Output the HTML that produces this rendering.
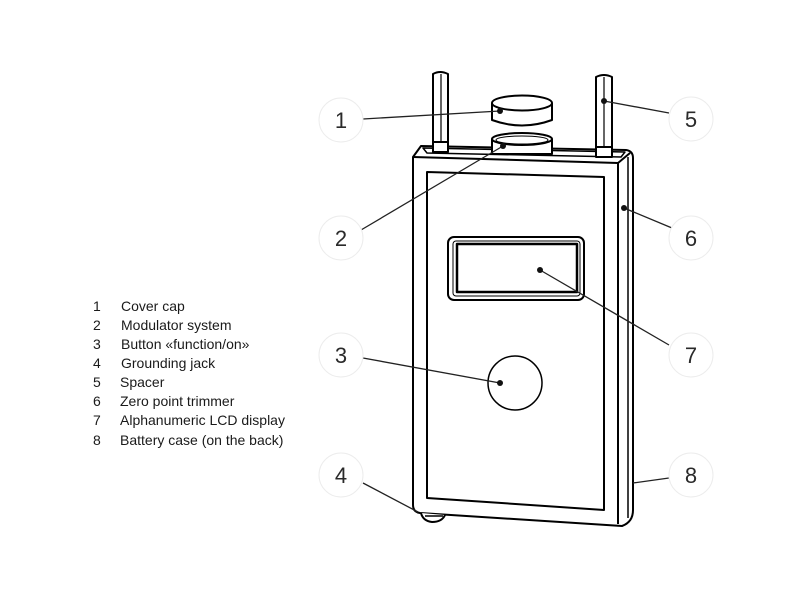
<!DOCTYPE html>
<html><head><meta charset="utf-8"><style>
html,body{margin:0;padding:0;background:#fff;}
svg{display:block;}
</style></head><body>
<svg width="800" height="600" viewBox="0 0 800 600" xmlns="http://www.w3.org/2000/svg">
<rect width="800" height="600" fill="#fff"/>
<!-- legend -->
<g font-family="Liberation Sans, Arial, sans-serif" font-size="14" fill="#1a1a1a">
<text x="93" y="311">1</text><text x="121" y="311">Cover cap</text>
<text x="93" y="330">2</text><text x="121" y="330">Modulator system</text>
<text x="93" y="349">3</text><text x="121" y="349">Button «function/on»</text>
<text x="93" y="368">4</text><text x="121" y="368">Grounding jack</text>
<text x="93" y="387">5</text><text x="120" y="387">Spacer</text>
<text x="93" y="406">6</text><text x="120" y="406">Zero point trimmer</text>
<text x="93" y="425">7</text><text x="120" y="425">Alphanumeric LCD display</text>
<text x="93" y="445">8</text><text x="120" y="445">Battery case (on the back)</text>
</g>
<!-- device -->
<g fill="none" stroke="#000" stroke-width="2" stroke-linejoin="round">
<!-- silhouette -->
<path d="M413,157 L421,146 L626,150 Q633,151 633,158 L633,510 Q633,522 622,526 L420,513 Q413,512 413,505 Z" fill="#fff"/>
<!-- front top edge and right front edge -->
<path d="M413,157 L618,163 L618,524"/>
<path d="M618,163 L630,153"/>
<path d="M628,157 L628,518" stroke-width="1.5"/>
<!-- top slot -->
<path d="M423,148 L625,152 L621,157 L427,153 Z" stroke-width="1.5"/>
<!-- inner front rect -->
<path d="M427,172 L604,177 L604,510 L427,498 Z"/>
<!-- display -->
<rect x="448" y="237" width="136" height="63" rx="6"/>
<rect x="453" y="241" width="127" height="55" rx="3" stroke-width="1"/>
<rect x="457" y="244" width="120" height="48" stroke-width="2.5"/>
<!-- button -->
<circle cx="515" cy="383" r="27" stroke-width="1.5"/>
<!-- jack -->
<path d="M421,513 Q423,521 432,522 Q442,522 445,515" fill="#fff"/>
<path d="M425,516 L443,516" stroke-width="1.5"/>
<!-- left post -->
<path d="M433,142 L433,74 Q440,70 448,74 L448,142" fill="#fff"/>
<path d="M441,74 L441,142" stroke-width="1.2"/>
<rect x="433" y="142" width="15" height="10" fill="#fff"/>
<!-- right post -->
<path d="M596,147 L596,77 Q604,73 612,77 L612,147" fill="#fff"/>
<path d="M604,77 L604,147" stroke-width="1.2"/>
<rect x="596" y="147" width="16" height="10" fill="#fff"/>
<!-- modulator -->
<path d="M492,139 L492,154 L552,154 L552,139" fill="#fff"/>
<ellipse cx="522" cy="139" rx="30" ry="6" fill="#fff"/>
<ellipse cx="522" cy="140" rx="26" ry="4" stroke-width="1"/>
<!-- cap -->
<path d="M492,103 L492,120 Q522,131 552,120 L552,103" fill="#fff"/>
<ellipse cx="522" cy="103" rx="30" ry="7.5" fill="#fff"/>
</g>
<!-- leader lines -->
<g stroke="#222" stroke-width="1.3" fill="none">
<path d="M363,119 L500,111"/>
<path d="M361,230 L503,146"/>
<path d="M363,358 L500,383"/>
<path d="M363,483 L418,512"/>
<path d="M669,113 L604,101"/>
<path d="M672,228 L624,208"/>
<path d="M669,345 L540,270"/>
<path d="M669,478 L633,483"/>
</g>
<g fill="#111">
<circle cx="500" cy="111" r="3"/>
<circle cx="503" cy="146" r="3"/>
<circle cx="500" cy="383" r="3"/>
<circle cx="604" cy="101" r="3"/>
<circle cx="624" cy="208" r="3"/>
<circle cx="540" cy="270" r="3"/>
</g>
<!-- callout circles -->
<g fill="#fff" stroke="#ececec" stroke-width="1">
<circle cx="341" cy="120" r="22"/>
<circle cx="341" cy="238" r="22"/>
<circle cx="341" cy="355" r="22"/>
<circle cx="341" cy="475" r="22"/>
<circle cx="691" cy="119" r="22"/>
<circle cx="691" cy="238" r="22"/>
<circle cx="691" cy="355" r="22"/>
<circle cx="691" cy="475" r="22"/>
</g>
<g font-family="Liberation Sans, Arial, sans-serif" font-size="22" fill="#2a2a2a" text-anchor="middle">
<text x="341" y="128">1</text>
<text x="341" y="246">2</text>
<text x="341" y="363">3</text>
<text x="341" y="483">4</text>
<text x="691" y="127">5</text>
<text x="691" y="246">6</text>
<text x="691" y="363">7</text>
<text x="691" y="483">8</text>
</g>
</svg>
</body></html>
